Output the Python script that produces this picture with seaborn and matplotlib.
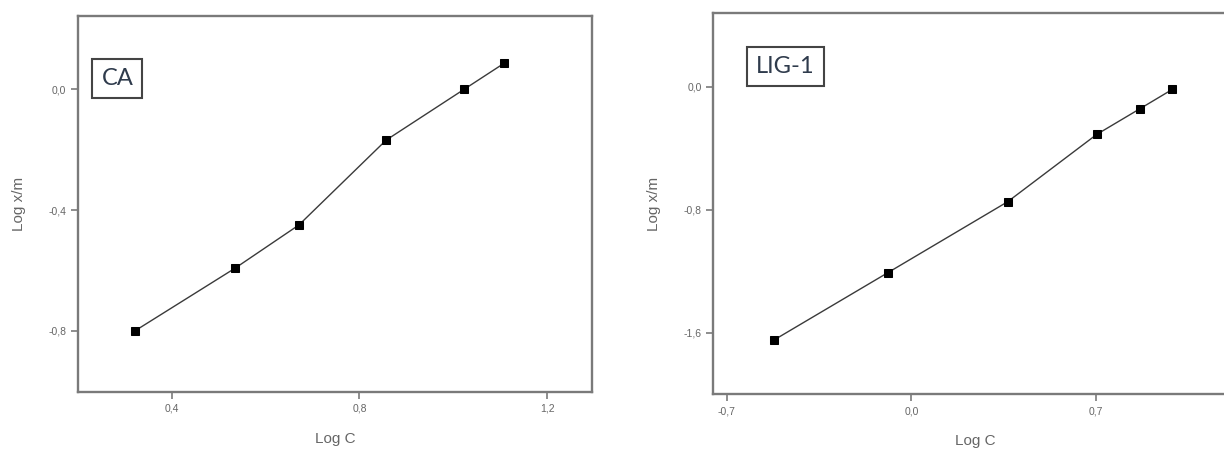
#Imports and config
import pandas as pd
import matplotlib
matplotlib.use("Agg")
import matplotlib.pyplot as plt
import seaborn as sns

#==========================================================================
#data
#==========================================================================
ca_log_c = [0.321, 0.535, 0.671, 0.857, 1.023, 1.108]
ca_log_xm = [-0.800, -0.592, -0.449, -0.168, 0.000, 0.086]

lig_log_c = [-0.521, -0.090, 0.365, 0.703, 0.867, 0.990]
lig_log_xm = [-1.647, -1.210, -0.748, -0.310, -0.143, -0.017]

ca_xticks = [0.4, 0.8, 1.2]
ca_xticklabels = ["0,4", "0,8", "1,2"]
ca_yticks = [0.0, -0.4, -0.8]
ca_yticklabels = ["0,0", "-0,4", "-0,8"]

lig_xticks = [-0.7, 0.0, 0.7]
lig_xticklabels = ["-0,7", "0,0", "0,7"]
lig_yticks = [0.0, -0.8, -1.6]
lig_yticklabels = ["0,0", "-0,8", "-1,6"]

sns.set_style("white")
plt.rcParams['font.family'] = ['Liberation Sans', 'DejaVu Sans']

spine_col = '#7a7a7a'
text_col = '#666666'

#==========================================================================
#draw_panel
#one isotherm panel with boxed sample name
#==========================================================================
def draw_panel(ax, xs, ys, xlim, ylim, xt, xtl, yt, ytl, name, box_xy):
    df = pd.DataFrame({'Log C': xs, 'Log x/m': ys})
    sns.lineplot(data=df, x='Log C', y='Log x/m', ax=ax, color='#3a3a3a',
                 linewidth=1.0, marker='s', markersize=5.5,
                 markerfacecolor='black', markeredgecolor='black',
                 errorbar=None)
    ax.set_xlim(*xlim)
    ax.set_ylim(*ylim)
    ax.set_xticks(xt)
    ax.set_xticklabels(xtl)
    ax.set_yticks(yt)
    ax.set_yticklabels(ytl)
    ax.tick_params(direction='out', length=5, width=1.2, color=spine_col,
                   labelsize=7.5, labelcolor=text_col, bottom=True, left=True)
    for s in ax.spines.values():
        s.set_color(spine_col)
        s.set_linewidth(1.7)
    ax.set_xlabel('Log C', fontsize=11, color=text_col, labelpad=13)
    ax.set_ylabel('Log x/m', fontsize=11, color=text_col, labelpad=16)
    ax.text(box_xy[0], box_xy[1], name, transform=ax.transAxes,
            fontsize=17, color='#2f3b4c', family=['Lato', 'DejaVu Sans'],
            ha='left', va='top',
            bbox=dict(boxstyle='square,pad=0.38', facecolor='white',
                      edgecolor='#444444', linewidth=1.5))

fig = plt.figure(figsize=(12.24, 4.5), dpi=100)
ax1 = fig.add_axes([0.0637, 0.1289, 0.4200, 0.8362])
ax2 = fig.add_axes([0.5828, 0.1238, 0.4279, 0.8466])

draw_panel(ax1, ca_log_c, ca_log_xm, (0.2, 1.296), (-1.002, 0.244),
           ca_xticks, ca_xticklabels, ca_yticks, ca_yticklabels,
           'CA', (0.0457, 0.860))
draw_panel(ax2, lig_log_c, lig_log_xm, (-0.751, 1.235), (-2.0, 0.477),
           lig_xticks, lig_xticklabels, lig_yticks, lig_yticklabels,
           'LIG-1', (0.082, 0.889))

fig.savefig('out.png', dpi=100)
